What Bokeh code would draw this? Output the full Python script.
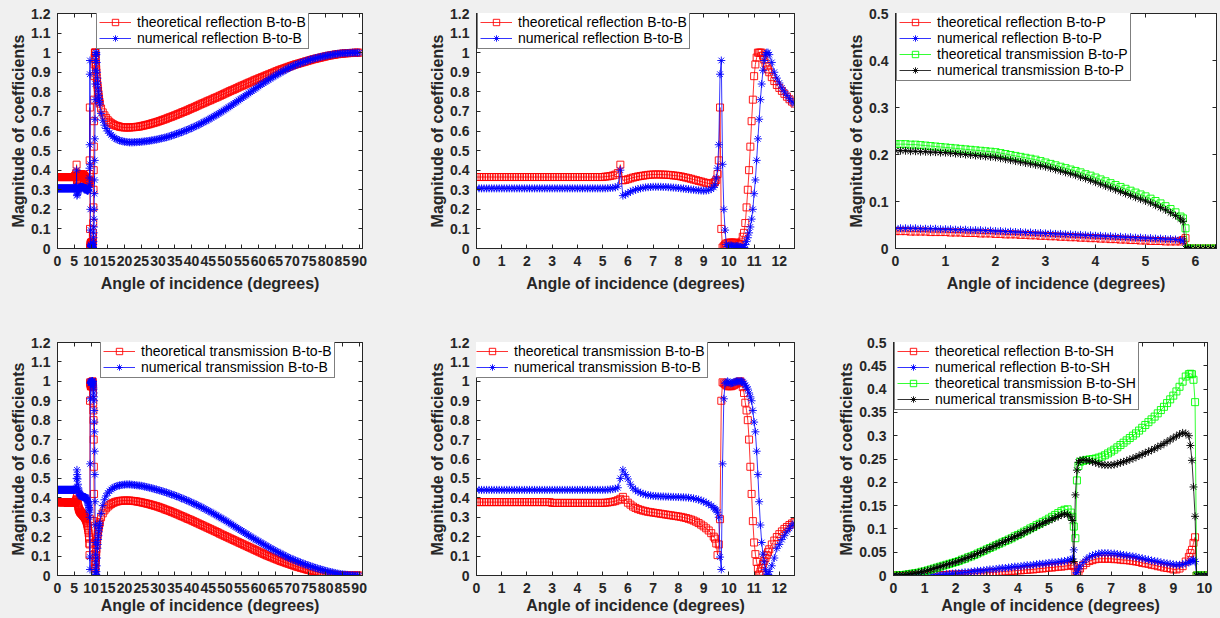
from bokeh.plotting import figure
from bokeh.models import Range1d, FixedTicker, LinearAxis, Legend, LegendItem
from bokeh.layouts import column, row
from bokeh.embed import file_html
from bokeh.resources import INLINE

# ---------------- data: bulk-to-bulk (B-to-B) -----------------
ANG_BB = [
    0.0, 0.1, 0.2, 0.3, 0.4, 0.5, 0.6, 0.7, 0.8, 0.9,
    1.0, 1.1, 1.2, 1.3, 1.4, 1.5, 1.6, 1.7, 1.8, 1.9,
    2.0, 2.1, 2.2, 2.3, 2.4, 2.5, 2.6, 2.7, 2.8, 2.9,
    3.0, 3.1, 3.2, 3.3, 3.4, 3.5, 3.6, 3.7, 3.8, 3.9,
    4.0, 4.1, 4.2, 4.3, 4.4, 4.5, 4.6, 4.7, 4.8, 4.9,
    5.0, 5.1, 5.2, 5.3, 5.4, 5.5, 5.6, 5.7, 5.8, 5.9,
    6.0, 6.1, 6.2, 6.3, 6.4, 6.5, 6.6, 6.7, 6.8, 6.9,
    7.0, 7.1, 7.2, 7.3, 7.4, 7.5, 7.6, 7.7, 7.8, 7.9,
    8.0, 8.1, 8.2, 8.3, 8.4, 8.5, 8.6, 8.7, 8.8, 8.9,
    9.0, 9.1, 9.2, 9.3, 9.4,
    9.45, 9.5, 9.55, 9.6, 9.65, 9.7, 9.75, 9.8, 9.85, 9.9,
    9.95, 10.0, 10.05, 10.1, 10.15, 10.2, 10.25, 10.3, 10.35, 10.4,
    10.45, 10.5, 10.55, 10.6, 10.65, 10.7, 10.75, 10.8, 10.85, 10.9,
    10.95, 11.0, 11.05, 11.1, 11.15, 11.2, 11.25, 11.3, 11.35, 11.4,
    11.45, 11.5, 11.55, 11.6,
    11.7, 11.8, 11.9, 12.0, 12.1, 12.2, 12.3, 12.4, 12.5, 12.6,
    13, 13.5, 14, 14.5, 15, 15.5, 16, 16.5, 17, 17.5,
    18, 18.5, 19, 19.5, 20, 20.5, 21, 21.5, 22, 22.5,
    23, 23.5, 24, 24.5, 25, 25.5, 26, 26.5, 27, 27.5,
    28, 28.5, 29, 29.5, 30, 30.5, 31, 31.5, 32, 32.5,
    33, 33.5, 34, 34.5, 35, 35.5, 36, 36.5, 37, 37.5,
    38, 38.5, 39, 39.5, 40, 40.5, 41, 41.5, 42, 42.5,
    43, 43.5, 44, 44.5, 45, 45.5, 46, 46.5, 47, 47.5,
    48, 48.5, 49, 49.5, 50, 50.5, 51, 51.5, 52, 52.5,
    53, 53.5, 54, 54.5, 55, 55.5, 56, 56.5, 57, 57.5,
    58, 58.5, 59, 59.5, 60, 60.5, 61, 61.5, 62, 62.5,
    63, 63.5, 64, 64.5, 65, 65.5, 66, 66.5, 67, 67.5,
    68, 68.5, 69, 69.5, 70, 70.5, 71, 71.5, 72, 72.5,
    73, 73.5, 74, 74.5, 75, 75.5, 76, 76.5, 77, 77.5,
    78, 78.5, 79, 79.5, 80, 80.5, 81, 81.5, 82, 82.5,
    83, 83.5, 84, 84.5, 85, 85.5, 86, 86.5, 87, 87.5,
    88, 88.5, 89, 89.5, 90,
]

R_BB_TH = [
    0.365, 0.365, 0.365, 0.365, 0.365, 0.365, 0.365, 0.365, 0.365, 0.365,
    0.365, 0.365, 0.365, 0.365, 0.365, 0.365, 0.365, 0.365, 0.365, 0.365,
    0.365, 0.365, 0.365, 0.365, 0.365, 0.365, 0.365, 0.365, 0.365, 0.365,
    0.365, 0.365, 0.365, 0.365, 0.365, 0.365, 0.365, 0.365, 0.365, 0.365,
    0.365, 0.365, 0.365, 0.365, 0.365, 0.365, 0.365, 0.365, 0.365, 0.365,
    0.365, 0.367, 0.368, 0.370, 0.373, 0.377, 0.385, 0.428, 0.348, 0.350,
    0.354, 0.358, 0.362, 0.365, 0.368, 0.370, 0.372, 0.374, 0.376, 0.377,
    0.378, 0.378, 0.378, 0.378, 0.377, 0.377, 0.376, 0.375, 0.373, 0.372,
    0.370, 0.368, 0.365, 0.362, 0.359, 0.356, 0.352, 0.349, 0.345, 0.342,
    0.338, 0.335, 0.332, 0.332, 0.336,
    0.34, 0.35, 0.38, 0.45, 0.72, 0.10, 0.005, 0.012, 0.02, 0.025,
    0.028, 0.03, 0.03, 0.03, 0.03, 0.03, 0.03, 0.028, 0.025, 0.022,
    0.02, 0.035, 0.06, 0.08, 0.13, 0.21, 0.30, 0.40, 0.52, 0.65,
    0.76, 0.88, 0.94, 0.975, 1.0, 1.0, 1.0, 1.0, 0.985, 0.965,
    0.945, 0.93, 0.915, 0.90,
    0.875, 0.855, 0.835, 0.82, 0.805, 0.79, 0.775, 0.762, 0.75, 0.74,
    0.715, 0.695, 0.68, 0.667, 0.655, 0.647, 0.64, 0.635, 0.63, 0.627,
    0.625, 0.622, 0.62, 0.619, 0.618, 0.618, 0.618, 0.618, 0.619, 0.619,
    0.62, 0.621, 0.622, 0.623, 0.625, 0.627, 0.629, 0.631, 0.633, 0.635,
    0.638, 0.64, 0.643, 0.645, 0.648, 0.651, 0.654, 0.657, 0.66, 0.663,
    0.667, 0.67, 0.673, 0.676, 0.68, 0.683, 0.687, 0.69, 0.694, 0.697,
    0.701, 0.704, 0.708, 0.712, 0.716, 0.719, 0.723, 0.727, 0.731, 0.735,
    0.739, 0.742, 0.746, 0.75, 0.754, 0.757, 0.761, 0.765, 0.769, 0.772,
    0.776, 0.78, 0.784, 0.788, 0.792, 0.796, 0.8, 0.804, 0.808, 0.811,
    0.815, 0.819, 0.823, 0.827, 0.831, 0.834, 0.838, 0.842, 0.846, 0.849,
    0.853, 0.857, 0.861, 0.864, 0.868, 0.871, 0.875, 0.878, 0.882, 0.885,
    0.889, 0.892, 0.896, 0.899, 0.903, 0.906, 0.91, 0.913, 0.916, 0.919,
    0.922, 0.925, 0.928, 0.931, 0.934, 0.937, 0.94, 0.942, 0.945, 0.947,
    0.95, 0.952, 0.955, 0.957, 0.96, 0.962, 0.965, 0.967, 0.969, 0.971,
    0.973, 0.975, 0.977, 0.979, 0.981, 0.983, 0.985, 0.986, 0.988, 0.989,
    0.991, 0.992, 0.993, 0.994, 0.995, 0.996, 0.997, 0.997, 0.998, 0.998,
    0.999, 0.999, 1.0, 1.0, 1.0,
]

R_BB_NUM = [
    0.307, 0.307, 0.307, 0.307, 0.307, 0.307, 0.307, 0.307, 0.307, 0.307,
    0.307, 0.307, 0.307, 0.307, 0.307, 0.307, 0.307, 0.307, 0.307, 0.307,
    0.307, 0.307, 0.307, 0.307, 0.307, 0.307, 0.307, 0.307, 0.307, 0.307,
    0.307, 0.307, 0.307, 0.307, 0.307, 0.307, 0.307, 0.307, 0.307, 0.307,
    0.307, 0.307, 0.307, 0.307, 0.307, 0.307, 0.307, 0.307, 0.307, 0.307,
    0.307, 0.307, 0.308, 0.309, 0.31, 0.312, 0.318, 0.40, 0.27, 0.275,
    0.283, 0.29, 0.296, 0.30, 0.304, 0.307, 0.31, 0.312, 0.313, 0.314,
    0.315, 0.315, 0.315, 0.315, 0.314, 0.314, 0.313, 0.312, 0.311, 0.31,
    0.309, 0.307, 0.306, 0.304, 0.303, 0.301, 0.3, 0.298, 0.297, 0.296,
    0.295, 0.296, 0.298, 0.303, 0.312,
    0.325, 0.36, 0.41, 0.53, 0.89, 0.96, 0.43, 0.20, 0.094, 0.02,
    0.01, 0.012, 0.015, 0.015, 0.012, 0.01, 0.01, 0.012, 0.012, 0.01,
    0.008, 0.005, 0.003, 0.005, 0.02, 0.035, 0.055, 0.08, 0.11, 0.15,
    0.20, 0.28, 0.35, 0.45, 0.56, 0.66, 0.76, 0.84, 0.91, 0.96,
    0.99, 1.0, 1.0, 0.99,
    0.95, 0.9, 0.87, 0.845, 0.82, 0.8, 0.782, 0.765, 0.75, 0.738,
    0.69, 0.655, 0.63, 0.613, 0.6, 0.589, 0.58, 0.572, 0.565, 0.56,
    0.555, 0.552, 0.549, 0.547, 0.545, 0.544, 0.543, 0.542, 0.542, 0.542,
    0.543, 0.543, 0.544, 0.544, 0.545, 0.546, 0.547, 0.548, 0.549, 0.55,
    0.552, 0.553, 0.555, 0.556, 0.558, 0.56, 0.562, 0.564, 0.566, 0.568,
    0.571, 0.573, 0.576, 0.579, 0.582, 0.585, 0.588, 0.591, 0.594, 0.597,
    0.601, 0.604, 0.608, 0.611, 0.615, 0.619, 0.623, 0.627, 0.631, 0.635,
    0.64, 0.644, 0.649, 0.653, 0.658, 0.663, 0.668, 0.673, 0.678, 0.683,
    0.688, 0.693, 0.699, 0.704, 0.71, 0.715, 0.721, 0.726, 0.732, 0.738,
    0.744, 0.75, 0.756, 0.762, 0.768, 0.774, 0.78, 0.786, 0.792, 0.798,
    0.804, 0.81, 0.816, 0.822, 0.828, 0.834, 0.84, 0.845, 0.851, 0.856,
    0.862, 0.867, 0.873, 0.878, 0.883, 0.888, 0.893, 0.898, 0.903, 0.907,
    0.912, 0.916, 0.921, 0.925, 0.929, 0.933, 0.937, 0.94, 0.944, 0.947,
    0.95, 0.953, 0.956, 0.959, 0.962, 0.964, 0.967, 0.97, 0.972, 0.974,
    0.976, 0.978, 0.98, 0.982, 0.984, 0.985, 0.987, 0.988, 0.99, 0.991,
    0.993, 0.994, 0.995, 0.996, 0.997, 0.997, 0.998, 0.998, 0.999, 0.999,
    1.0, 1.0, 1.0, 1.0, 1.0,
]

T_BB_TH = [
    0.378, 0.378, 0.378, 0.378, 0.378, 0.378, 0.378, 0.378, 0.378, 0.378,
    0.378, 0.378, 0.378, 0.378, 0.378, 0.378, 0.378, 0.378, 0.378, 0.378,
    0.378, 0.378, 0.378, 0.378, 0.378, 0.378, 0.378, 0.378, 0.378, 0.378,
    0.374, 0.374, 0.374, 0.374, 0.374, 0.374, 0.374, 0.374, 0.374, 0.374,
    0.374, 0.374, 0.374, 0.374, 0.374, 0.374, 0.374, 0.374, 0.374, 0.374,
    0.374, 0.375, 0.376, 0.378, 0.38, 0.383, 0.388, 0.395, 0.405, 0.39,
    0.375, 0.365, 0.355, 0.348, 0.342, 0.338, 0.334, 0.331, 0.328, 0.326,
    0.324, 0.322, 0.32, 0.318, 0.316, 0.314, 0.312, 0.31, 0.308, 0.306,
    0.304, 0.302, 0.299, 0.296, 0.292, 0.288, 0.283, 0.277, 0.27, 0.262,
    0.253, 0.243, 0.232, 0.218, 0.2,
    0.19, 0.165, 0.105, 0.16, 0.29, 0.90, 0.995, 0.99, 0.985, 0.98,
    0.975, 0.975, 0.975, 0.975, 0.978, 0.98, 0.985, 0.99, 0.995, 0.998,
    1.0, 0.99, 0.97, 0.94, 0.89, 0.85, 0.80, 0.70, 0.56, 0.42,
    0.28, 0.17, 0.11, 0.07, 0.035, 0.005, 0.02, 0.04, 0.06, 0.075,
    0.09, 0.105, 0.12, 0.135,
    0.16, 0.18, 0.198, 0.213, 0.227, 0.24, 0.25, 0.26, 0.268, 0.275,
    0.30, 0.32, 0.335, 0.346, 0.355, 0.362, 0.368, 0.373, 0.377, 0.38,
    0.382, 0.384, 0.385, 0.386, 0.386, 0.386, 0.386, 0.386, 0.385, 0.384,
    0.383, 0.382, 0.38, 0.379, 0.377, 0.375, 0.373, 0.371, 0.369, 0.367,
    0.364, 0.362, 0.359, 0.357, 0.354, 0.351, 0.348, 0.345, 0.341, 0.338,
    0.335, 0.332, 0.328, 0.325, 0.321, 0.318, 0.314, 0.31, 0.306, 0.303,
    0.299, 0.295, 0.291, 0.288, 0.284, 0.28, 0.276, 0.272, 0.268, 0.264,
    0.26, 0.256, 0.252, 0.248, 0.244, 0.24, 0.236, 0.232, 0.228, 0.224,
    0.22, 0.215, 0.211, 0.207, 0.203, 0.199, 0.195, 0.191, 0.187, 0.183,
    0.179, 0.175, 0.171, 0.167, 0.163, 0.159, 0.155, 0.151, 0.147, 0.143,
    0.139, 0.135, 0.131, 0.127, 0.123, 0.119, 0.115, 0.111, 0.107, 0.103,
    0.1, 0.096, 0.093, 0.089, 0.086, 0.082, 0.079, 0.075, 0.072, 0.069,
    0.066, 0.063, 0.06, 0.057, 0.054, 0.051, 0.048, 0.045, 0.043, 0.04,
    0.038, 0.035, 0.033, 0.03, 0.028, 0.026, 0.024, 0.022, 0.02, 0.018,
    0.016, 0.014, 0.012, 0.01, 0.009, 0.007, 0.006, 0.005, 0.004, 0.003,
    0.002, 0.001, 0.001, 0.0, 0.0, 0.0, 0.0, 0.0, 0.0, 0.0,
    0.0, 0.0, 0.0, 0.0, 0.0,
]

T_BB_NUM = [
    0.441, 0.441, 0.441, 0.441, 0.441, 0.441, 0.441, 0.441, 0.441, 0.441,
    0.441, 0.441, 0.441, 0.441, 0.441, 0.441, 0.441, 0.441, 0.441, 0.441,
    0.441, 0.441, 0.441, 0.441, 0.441, 0.441, 0.441, 0.441, 0.441, 0.441,
    0.441, 0.441, 0.441, 0.441, 0.441, 0.441, 0.441, 0.441, 0.441, 0.441,
    0.441, 0.441, 0.441, 0.441, 0.441, 0.441, 0.441, 0.441, 0.441, 0.441,
    0.441, 0.441, 0.442, 0.443, 0.445, 0.447, 0.452, 0.50, 0.544, 0.52,
    0.497, 0.47, 0.45, 0.44, 0.432, 0.426, 0.421, 0.417, 0.414, 0.412,
    0.41, 0.409, 0.408, 0.407, 0.407, 0.406, 0.406, 0.405, 0.405, 0.404,
    0.404, 0.403, 0.403, 0.402, 0.401, 0.399, 0.397, 0.394, 0.391, 0.386,
    0.381, 0.375, 0.368, 0.36, 0.35,
    0.343, 0.337, 0.326, 0.30, 0.095, 0.031, 0.575, 0.91, 0.99, 0.995,
    1.0, 0.995, 0.99, 0.99, 0.992, 0.995, 0.998, 1.0, 1.0, 1.0,
    1.0, 1.0, 0.998, 0.99, 0.98, 0.97, 0.96, 0.94, 0.92, 0.9,
    0.85, 0.79, 0.74, 0.64, 0.52, 0.38, 0.26, 0.17, 0.11, 0.07,
    0.03, 0.008, 0.005, 0.02,
    0.05, 0.09, 0.14, 0.16, 0.185, 0.205, 0.225, 0.243, 0.258, 0.27,
    0.32, 0.36, 0.39, 0.41, 0.425, 0.435, 0.443, 0.45, 0.455, 0.459,
    0.462, 0.464, 0.466, 0.467, 0.468, 0.469, 0.469, 0.469, 0.468, 0.467,
    0.466, 0.465, 0.464, 0.463, 0.462, 0.46, 0.458, 0.456, 0.454, 0.452,
    0.45, 0.448, 0.445, 0.443, 0.44, 0.438, 0.435, 0.433, 0.43, 0.427,
    0.424, 0.421, 0.418, 0.415, 0.412, 0.409, 0.405, 0.402, 0.398, 0.395,
    0.391, 0.388, 0.384, 0.38, 0.376, 0.372, 0.368, 0.364, 0.36, 0.356,
    0.351, 0.347, 0.342, 0.338, 0.333, 0.329, 0.324, 0.319, 0.314, 0.309,
    0.304, 0.299, 0.294, 0.289, 0.284, 0.279, 0.273, 0.268, 0.262, 0.257,
    0.251, 0.246, 0.24, 0.235, 0.229, 0.224, 0.218, 0.213, 0.207, 0.202,
    0.196, 0.191, 0.186, 0.181, 0.176, 0.171, 0.166, 0.161, 0.156, 0.151,
    0.146, 0.141, 0.136, 0.132, 0.127, 0.123, 0.118, 0.114, 0.109, 0.105,
    0.1, 0.096, 0.092, 0.088, 0.084, 0.081, 0.077, 0.074, 0.07, 0.067,
    0.063, 0.06, 0.057, 0.054, 0.051, 0.048, 0.045, 0.042, 0.039, 0.037,
    0.034, 0.032, 0.029, 0.027, 0.024, 0.022, 0.02, 0.018, 0.016, 0.014,
    0.012, 0.01, 0.009, 0.007, 0.006, 0.005, 0.004, 0.003, 0.002, 0.002,
    0.001, 0.001, 0.0, 0.0, 0.0,
]

# ---------------- data: bulk-to-plate (B-to-P) -----------------
ANG_BP = [
    0.0, 0.1, 0.2, 0.3, 0.4, 0.5, 0.6, 0.7, 0.8, 0.9,
    1.0, 1.1, 1.2, 1.3, 1.4, 1.5, 1.6, 1.7, 1.8, 1.9,
    2.0, 2.1, 2.2, 2.3, 2.4, 2.5, 2.6, 2.7, 2.8, 2.9,
    3.0, 3.1, 3.2, 3.3, 3.4, 3.5, 3.6, 3.7, 3.8, 3.9,
    4.0, 4.1, 4.2, 4.3, 4.4, 4.5, 4.6, 4.7, 4.8, 4.9,
    5.0, 5.1, 5.2, 5.3, 5.4, 5.5, 5.6, 5.7,
    5.75, 5.8, 5.85, 5.9, 6.0, 6.1, 6.2, 6.3, 6.4,
]
R_BP_TH = [
    0.037, 0.037, 0.037, 0.036, 0.036, 0.036, 0.036, 0.035, 0.035, 0.035,
    0.035, 0.034, 0.034, 0.034, 0.033, 0.033, 0.033, 0.032, 0.032, 0.032,
    0.031, 0.031, 0.03, 0.03, 0.03, 0.029, 0.029, 0.028, 0.028, 0.027,
    0.027, 0.026, 0.026, 0.025, 0.025, 0.024, 0.024, 0.023, 0.023, 0.022,
    0.022, 0.021, 0.021, 0.02, 0.02, 0.019, 0.019, 0.018, 0.018, 0.017,
    0.017, 0.016, 0.016, 0.016, 0.015, 0.015, 0.015, 0.015,
    0.018, 0.022, 0.0, 0.0, 0.0, 0.0, 0.0, 0.0, 0.0,
]
R_BP_NUM = [
    0.043, 0.043, 0.043, 0.043, 0.043, 0.042, 0.042, 0.042, 0.042, 0.041,
    0.041, 0.041, 0.04, 0.04, 0.04, 0.039, 0.039, 0.039, 0.038, 0.038,
    0.037, 0.037, 0.036, 0.036, 0.035, 0.035, 0.034, 0.034, 0.033, 0.033,
    0.032, 0.032, 0.031, 0.031, 0.03, 0.03, 0.029, 0.029, 0.028, 0.028,
    0.027, 0.027, 0.026, 0.026, 0.025, 0.025, 0.024, 0.024, 0.023, 0.023,
    0.022, 0.022, 0.021, 0.021, 0.02, 0.02, 0.019, 0.018,
    0.016, 0.0, 0.0, 0.0, 0.0, 0.0, 0.0, 0.0, 0.0,
]
T_BP_TH = [
    0.222, 0.222, 0.222, 0.221, 0.221, 0.22, 0.219, 0.218, 0.217, 0.216,
    0.215, 0.214, 0.213, 0.212, 0.211, 0.21, 0.209, 0.208, 0.207, 0.206,
    0.205, 0.203, 0.201, 0.199, 0.197, 0.195, 0.193, 0.191, 0.189, 0.186,
    0.183, 0.18, 0.177, 0.174, 0.171, 0.168, 0.165, 0.162, 0.158, 0.155,
    0.151, 0.147, 0.143, 0.139, 0.135, 0.131, 0.127, 0.123, 0.119, 0.115,
    0.111, 0.106, 0.101, 0.096, 0.09, 0.084, 0.077, 0.068,
    0.064, 0.043, 0.0, 0.0, 0.0, 0.0, 0.0, 0.0, 0.0,
]
T_BP_NUM = [
    0.208, 0.208, 0.208, 0.207, 0.207, 0.206, 0.206, 0.205, 0.205, 0.204,
    0.204, 0.203, 0.202, 0.201, 0.2, 0.199, 0.198, 0.197, 0.196, 0.195,
    0.194, 0.192, 0.19, 0.188, 0.186, 0.184, 0.182, 0.18, 0.178, 0.176,
    0.174, 0.171, 0.168, 0.165, 0.162, 0.159, 0.156, 0.152, 0.149, 0.145,
    0.141, 0.137, 0.133, 0.129, 0.125, 0.121, 0.117, 0.113, 0.109, 0.105,
    0.101, 0.097, 0.092, 0.087, 0.082, 0.076, 0.07, 0.063,
    0.058, 0.0, 0.0, 0.0, 0.0, 0.0, 0.0, 0.0, 0.0,
]

# ---------------- data: bulk-to-SH (B-to-SH) -----------------
ANG_BSH = [
    0.0, 0.1, 0.2, 0.3, 0.4, 0.5, 0.6, 0.7, 0.8, 0.9,
    1.0, 1.1, 1.2, 1.3, 1.4, 1.5, 1.6, 1.7, 1.8, 1.9,
    2.0, 2.1, 2.2, 2.3, 2.4, 2.5, 2.6, 2.7, 2.8, 2.9,
    3.0, 3.1, 3.2, 3.3, 3.4, 3.5, 3.6, 3.7, 3.8, 3.9,
    4.0, 4.1, 4.2, 4.3, 4.4, 4.5, 4.6, 4.7, 4.8, 4.9,
    5.0, 5.1, 5.2, 5.3, 5.4, 5.5, 5.6, 5.7,
    5.75, 5.8, 5.85, 5.9, 5.95,
    6.0, 6.1, 6.2, 6.3, 6.4, 6.5, 6.6, 6.7, 6.8, 6.9,
    7.0, 7.1, 7.2, 7.3, 7.4, 7.5, 7.6, 7.7, 7.8, 7.9,
    8.0, 8.1, 8.2, 8.3, 8.4, 8.5, 8.6, 8.7, 8.8, 8.9,
    9.0, 9.1, 9.2, 9.3, 9.4, 9.5,
    9.55, 9.6, 9.65, 9.7, 9.75, 9.8,
    9.9, 10.0, 10.1,
]
R_BSH_TH = [
    0.0, 0.0, 0.0, 0.0, 0.0, 0.0, 0.0, 0.0, 0.0, 0.0,
    0.0, 0.0, 0.0, 0.001, 0.001, 0.001, 0.001, 0.001, 0.002, 0.002,
    0.002, 0.002, 0.003, 0.003, 0.003, 0.004, 0.004, 0.004, 0.005, 0.005,
    0.006, 0.006, 0.007, 0.007, 0.008, 0.008, 0.009, 0.009, 0.01, 0.01,
    0.011, 0.011, 0.012, 0.012, 0.013, 0.013, 0.014, 0.015, 0.015, 0.016,
    0.017, 0.017, 0.018, 0.019, 0.019, 0.02, 0.021, 0.022,
    0.022, 0.02, 0.008, 0.003, 0.008,
    0.015, 0.022, 0.027, 0.031, 0.033, 0.035, 0.036, 0.036, 0.036, 0.036,
    0.036, 0.035, 0.035, 0.034, 0.033, 0.033, 0.032, 0.031, 0.03, 0.029,
    0.027, 0.026, 0.025, 0.023, 0.022, 0.02, 0.019, 0.017, 0.016, 0.015,
    0.013, 0.013, 0.015, 0.02, 0.03, 0.04,
    0.048, 0.055, 0.07, 0.082, 0.0, 0.0,
    0.0, 0.0, 0.0,
]
R_BSH_NUM = [
    0.0, 0.0, 0.0, 0.0, 0.0, 0.0, 0.0, 0.0, 0.0, 0.0,
    0.0, 0.0, 0.001, 0.001, 0.001, 0.002, 0.002, 0.003, 0.003, 0.004,
    0.005, 0.005, 0.006, 0.007, 0.007, 0.008, 0.009, 0.01, 0.01, 0.011,
    0.012, 0.013, 0.013, 0.014, 0.015, 0.016, 0.016, 0.017, 0.018, 0.019,
    0.019, 0.02, 0.021, 0.022, 0.022, 0.023, 0.024, 0.025, 0.025, 0.026,
    0.027, 0.028, 0.028, 0.029, 0.03, 0.031, 0.032, 0.034,
    0.036, 0.055, 0.0, 0.006, 0.014,
    0.02, 0.028, 0.035, 0.04, 0.043, 0.045, 0.047, 0.048, 0.048, 0.048,
    0.047, 0.047, 0.046, 0.045, 0.044, 0.043, 0.042, 0.041, 0.04, 0.038,
    0.037, 0.035, 0.034, 0.032, 0.031, 0.03, 0.028, 0.027, 0.026, 0.025,
    0.024, 0.023, 0.023, 0.024, 0.026, 0.028,
    0.03, 0.032, 0.034, 0.03, 0.0, 0.0,
    0.0, 0.0, 0.0,
]
T_BSH_TH = [
    0.0, 0.0, 0.001, 0.001, 0.002, 0.003, 0.004, 0.005, 0.006, 0.008,
    0.009, 0.011, 0.013, 0.015, 0.017, 0.019, 0.021, 0.023, 0.025, 0.027,
    0.029, 0.031, 0.034, 0.036, 0.039, 0.041, 0.044, 0.047, 0.05, 0.053,
    0.056, 0.059, 0.062, 0.065, 0.068, 0.071, 0.074, 0.077, 0.08, 0.084,
    0.087, 0.09, 0.094, 0.097, 0.101, 0.104, 0.108, 0.111, 0.115, 0.118,
    0.122, 0.126, 0.13, 0.134, 0.138, 0.141, 0.142, 0.135,
    0.126, 0.105, 0.08, 0.204, 0.235,
    0.244, 0.246, 0.248, 0.249, 0.25, 0.251, 0.253, 0.255, 0.258, 0.262,
    0.266, 0.27, 0.275, 0.28, 0.285, 0.29, 0.295, 0.3, 0.305, 0.311,
    0.317, 0.323, 0.329, 0.335, 0.341, 0.348, 0.355, 0.362, 0.37, 0.378,
    0.386, 0.395, 0.405, 0.416, 0.427, 0.432,
    0.433, 0.432, 0.42, 0.372, 0.0, 0.0,
    0.0, 0.0, 0.0,
]
T_BSH_NUM = [
    0.0, 0.0, 0.001, 0.001, 0.002, 0.003, 0.004, 0.005, 0.006, 0.008,
    0.009, 0.011, 0.013, 0.015, 0.017, 0.019, 0.021, 0.023, 0.025, 0.027,
    0.029, 0.031, 0.034, 0.036, 0.039, 0.041, 0.044, 0.047, 0.05, 0.053,
    0.056, 0.059, 0.062, 0.065, 0.068, 0.071, 0.074, 0.077, 0.08, 0.083,
    0.086, 0.089, 0.093, 0.096, 0.099, 0.102, 0.106, 0.109, 0.112, 0.115,
    0.118, 0.121, 0.124, 0.127, 0.13, 0.132, 0.131, 0.126,
    0.118, 0.03, 0.173, 0.226, 0.243,
    0.247, 0.248, 0.247, 0.246, 0.244, 0.242, 0.24, 0.238, 0.237, 0.237,
    0.237, 0.238, 0.24, 0.242, 0.244, 0.246, 0.249, 0.251, 0.254, 0.257,
    0.26, 0.263, 0.266, 0.269, 0.272, 0.276, 0.279, 0.283, 0.287, 0.291,
    0.295, 0.299, 0.303, 0.306, 0.305, 0.3,
    0.279, 0.247, 0.19, 0.127, 0.0, 0.0,
    0.0, 0.0, 0.0,
]

# ---------------- ticks -----------------
X_TICKS_90 = [0, 5, 10, 15, 20, 25, 30, 35, 40, 45, 50, 55, 60, 65, 70, 75, 80, 85, 90]
X_LABELS_90 = ["0", "5", "10", "15", "20", "25", "30", "35", "40", "45", "50",
               "55", "60", "65", "70", "75", "80", "85", "90"]
X_TICKS_12 = [0, 1, 2, 3, 4, 5, 6, 7, 8, 9, 10, 11, 12]
X_LABELS_12 = ["0", "1", "2", "3", "4", "5", "6", "7", "8", "9", "10", "11", "12"]
X_TICKS_6 = [0, 1, 2, 3, 4, 5, 6]
X_LABELS_6 = ["0", "1", "2", "3", "4", "5", "6"]
X_TICKS_10 = [0, 1, 2, 3, 4, 5, 6, 7, 8, 9, 10]
X_LABELS_10 = ["0", "1", "2", "3", "4", "5", "6", "7", "8", "9", "10"]
Y_TICKS_12 = [0, 0.1, 0.2, 0.3, 0.4, 0.5, 0.6, 0.7, 0.8, 0.9, 1.0, 1.1, 1.2]
Y_LABELS_12 = ["0", "0.1", "0.2", "0.3", "0.4", "0.5", "0.6", "0.7", "0.8", "0.9", "1", "1.1", "1.2"]
Y_TICKS_05 = [0, 0.1, 0.2, 0.3, 0.4, 0.5]
Y_LABELS_05 = ["0", "0.1", "0.2", "0.3", "0.4", "0.5"]
Y_TICKS_005 = [0, 0.05, 0.1, 0.15, 0.2, 0.25, 0.3, 0.35, 0.4, 0.45, 0.5]
Y_LABELS_005 = ["0", "0.05", "0.1", "0.15", "0.2", "0.25", "0.3", "0.35", "0.4", "0.45", "0.5"]

FONT = "Liberation Sans"
AXC = "#262626"
BG = "#f0f0f0"
RED, BLUE, GREEN, BLACK = "#ff0000", "#0000ff", "#00ff00", "#000000"


def style_axis(ax, ticks, labels=None, label_gap=1):
    ax.ticker = FixedTicker(ticks=ticks)
    ax.major_tick_in = 4
    ax.major_tick_out = 0
    ax.minor_tick_line_color = None
    ax.axis_line_color = AXC
    ax.major_tick_line_color = AXC
    if labels is not None:
        ax.major_label_overrides = dict(zip(ticks, labels))
        ax.major_label_text_font = FONT
        ax.major_label_text_font_style = "bold"
        ax.major_label_text_font_size = "14px"
        ax.major_label_text_color = AXC
        ax.major_label_standoff = 7
        ax.axis_label_text_font = FONT
        ax.axis_label_text_font_style = "bold"
        ax.axis_label_text_font_size = "16px"
        ax.axis_label_text_color = AXC
        ax.axis_label_standoff = label_gap
    else:
        # tick marks only (box-style ticks on top / right); labels not drawn
        ax.major_label_text_font_size = "0px"
        ax.major_label_text_color = None
        ax.major_label_text_alpha = 0
        ax.major_label_standoff = 0
        ax.axis_label = None


def make_panel(width, height, borders, xmax, ymax, xt, xl, yt, yl, xgap):
    lb, rb, tb, bb = borders
    p = figure(width=width, height=height, x_range=Range1d(0, xmax), y_range=Range1d(0, ymax),
               output_backend="svg", toolbar_location=None,
               min_border_left=lb, min_border_right=rb, min_border_top=tb, min_border_bottom=bb,
               x_axis_label="Angle of incidence (degrees)",
               y_axis_label="Magnitude of coefficients")
    p.background_fill_color = "white"
    p.border_fill_color = BG
    p.outline_line_color = AXC
    p.grid.visible = False
    style_axis(p.xaxis[0], xt, xl, label_gap=xgap)
    style_axis(p.yaxis[0], yt, yl, label_gap=1)
    top = LinearAxis()
    style_axis(top, xt)
    p.add_layout(top, "above")
    right = LinearAxis()
    style_axis(right, yt)
    p.add_layout(right, "right")
    return p


def add_series(p, items, x, y, color, marker, label):
    n = min(len(x), len(y))
    xs, ys = x[:n], y[:n]
    lr = p.line(xs, ys, line_color=color, line_width=0.8)
    if marker == "square":
        sr = p.scatter(xs, ys, marker="square", size=7, line_color=color, fill_color=None, line_width=0.9)
    else:
        sr = p.scatter(xs, ys, marker="asterisk", size=8, line_color=color, line_width=0.9)
    items.append(LegendItem(label=label, renderers=[lr, sr]))


def add_legend(p, items, loc):
    lg = Legend(items=items, location=loc, margin=0, padding=2, spacing=0,
                label_height=16, glyph_height=16, glyph_width=32, label_standoff=6,
                label_text_font=FONT, label_text_font_size="14px", label_text_color="black",
                border_line_color="black", border_line_width=1,
                background_fill_color="white", background_fill_alpha=1.0)
    p.add_layout(lg, "center")


# ---- top row ----
p1 = make_panel(400, 305, (57, 38, 13, 57), 91, 1.2, X_TICKS_90, X_LABELS_90, Y_TICKS_12, Y_LABELS_12, 6)
it = []
add_series(p1, it, ANG_BB, R_BB_TH, RED, "square", "theoretical reflection B-to-B")
add_series(p1, it, ANG_BB, R_BB_NUM, BLUE, "asterisk", "numerical reflection B-to-B")
add_legend(p1, it, (39, 199))

p2 = make_panel(410, 305, (76, 16, 13, 57), 12.6, 1.2, X_TICKS_12, X_LABELS_12, Y_TICKS_12, Y_LABELS_12, 6)
it = []
add_series(p2, it, ANG_BB, R_BB_TH, RED, "square", "theoretical reflection B-to-B")
add_series(p2, it, ANG_BB, R_BB_NUM, BLUE, "asterisk", "numerical reflection B-to-B")
add_legend(p2, it, (1, 199))

p3 = make_panel(410, 305, (85, 4, 13, 57), 6.42, 0.5, X_TICKS_6, X_LABELS_6, Y_TICKS_05, Y_LABELS_05, 6)
it = []
add_series(p3, it, ANG_BP, R_BP_TH, RED, "square", "theoretical reflection B-to-P")
add_series(p3, it, ANG_BP, R_BP_NUM, BLUE, "asterisk", "numerical reflection B-to-P")
add_series(p3, it, ANG_BP, T_BP_TH, GREEN, "square", "theoretical transmission B-to-P")
add_series(p3, it, ANG_BP, T_BP_NUM, BLACK, "asterisk", "numerical transmission B-to-P")
add_legend(p3, it, (1, 167))

# ---- bottom row ----
p4 = make_panel(400, 313, (57, 38, 37, 43), 91, 1.2, X_TICKS_90, X_LABELS_90, Y_TICKS_12, Y_LABELS_12, 1)
it = []
add_series(p4, it, ANG_BB, T_BB_TH, RED, "square", "theoretical transmission B-to-B")
add_series(p4, it, ANG_BB, T_BB_NUM, BLUE, "asterisk", "numerical transmission B-to-B")
add_legend(p4, it, (43, 197))

p5 = make_panel(410, 313, (76, 16, 37, 43), 12.6, 1.2, X_TICKS_12, X_LABELS_12, Y_TICKS_12, Y_LABELS_12, 1)
it = []
add_series(p5, it, ANG_BB, T_BB_TH, RED, "square", "theoretical transmission B-to-B")
add_series(p5, it, ANG_BB, T_BB_NUM, BLUE, "asterisk", "numerical transmission B-to-B")
add_legend(p5, it, (-3, 197))

p6 = make_panel(410, 313, (83, 13, 37, 43), 10.1, 0.5, X_TICKS_10, X_LABELS_10, Y_TICKS_005, Y_LABELS_005, 1)
it = []
add_series(p6, it, ANG_BSH, R_BSH_TH, RED, "square", "theoretical reflection B-to-SH")
add_series(p6, it, ANG_BSH, R_BSH_NUM, BLUE, "asterisk", "numerical reflection B-to-SH")
add_series(p6, it, ANG_BSH, T_BSH_TH, GREEN, "square", "theoretical transmission B-to-SH")
add_series(p6, it, ANG_BSH, T_BSH_NUM, BLACK, "asterisk", "numerical transmission B-to-SH")
add_legend(p6, it, (1, 165))

layout = column(row(p1, p2, p3, styles={"background-color": BG}),
                row(p4, p5, p6, styles={"background-color": BG}),
                styles={"background-color": BG})

with open("out.html", "w") as f:
    f.write(file_html(layout, INLINE))
